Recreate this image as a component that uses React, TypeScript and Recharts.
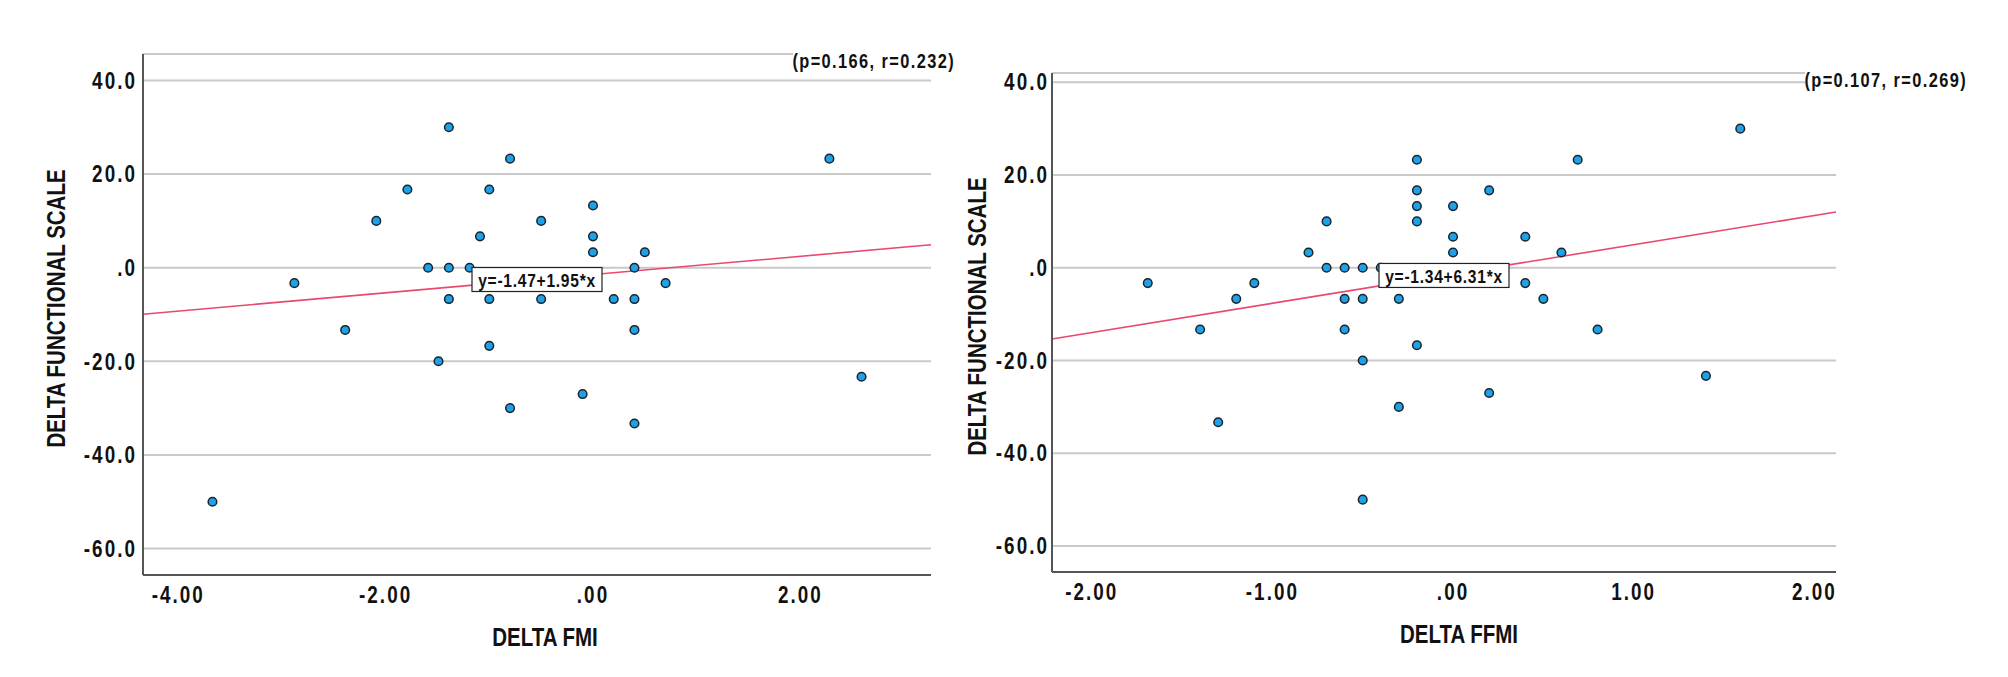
import {
  ScatterChart,
  Scatter,
  XAxis,
  YAxis,
  CartesianGrid,
  ReferenceLine,
  ReferenceDot,
} from "recharts";

// Delta FMI vs delta functional scale
const fmiX = [
  -1.39, -0.8, 2.28, -1.79, -1.0, 0.0, -2.09, -0.5, -1.09, 0.0, 0.0, 0.5, -1.59, -1.39, -1.19, 0.4, -2.88,
  0.7, -1.09, -1.39, -1.0, -0.5, 0.2, 0.4, -2.39, 0.4, -1.0, -1.49, 2.59, -0.1, -0.8, 0.4, -3.67,
];
const fmiY = [
  30, 23.3, 23.3, 16.7, 16.7, 13.3, 10, 10, 6.7, 6.7, 3.3, 3.3, 0, 0, 0, 0, -3.3, -3.3, -3.3, -6.7, -6.7,
  -6.7, -6.7, -6.7, -13.3, -13.3, -16.7, -20, -23.3, -27, -30, -33.3, -50,
];

// Delta FFMI vs delta functional scale
const ffmiX = [
  1.59, -0.2, 0.69, -0.2, 0.2, -0.2, 0.0, -0.7, -0.2, 0.0, 0.4, -0.8, 0.0, 0.6, -0.7, -0.6, -0.5, -0.4,
  -1.69, -1.1, 0.4, -1.2, -0.6, -0.5, -0.3, 0.5, -1.4, -0.6, 0.8, -0.2, -0.5, 1.4, 0.2, -0.3, -1.3, -0.5,
];
const ffmiY = [
  30, 23.3, 23.3, 16.7, 16.7, 13.3, 13.3, 10, 10, 6.7, 6.7, 3.3, 3.3, 3.3, 0, 0, 0, 0, -3.3, -3.3, -3.3,
  -6.7, -6.7, -6.7, -6.7, -6.7, -13.3, -13.3, -13.3, -16.7, -20, -23.3, -27, -30, -33.3, -50,
];

const yTicks = [-60, -40, -20, 0, 20, 40];
const fmiTicks = [-4, -2, 0, 2];
const ffmiTicks = [-2, -1, 0, 1, 2];

const FONT = "'Liberation Sans', Arial, sans-serif";
const SQUEEZE = 0.82; // fake Arial Narrow
const DOT_FILL = "#1ea2e6";
const LINE_RED = "#e8496f";

const fmtY = (v: number) => (v === 0 ? ".0" : v.toFixed(1));
const fmtX = (v: number) => (v === 0 ? ".00" : v.toFixed(2));

interface NarrowProps {
  x: number;
  y: number;
  size: number;
  anchor?: "start" | "middle" | "end";
  spacing?: number;
  rotate?: boolean;
  children: any;
}

// condensed bold text, like the SPSS output
function Narrow({ x, y, size, anchor = "middle", spacing = 0, rotate = false, children }: NarrowProps) {
  const tf = `translate(${x},${y})${rotate ? " rotate(-90)" : ""} scale(${SQUEEZE},1)`;
  return (
    <text
      transform={tf}
      x={0}
      y={0}
      textAnchor={anchor}
      dominantBaseline="central"
      fontFamily={FONT}
      fontWeight={700}
      fontSize={size}
      letterSpacing={spacing}
      fill="#111"
    >
      {children}
    </text>
  );
}

const dot = (p: any) => (
  <circle cx={p.cx} cy={p.cy} r={4.3} fill={DOT_FILL} stroke="#1b2330" strokeWidth={1.5} />
);

interface PanelProps {
  xs: number[];
  ys: number[];
  xTicks: number[];
  xDomain: [number, number];
  yDomain: [number, number];
  intercept: number;
  slope: number;
  stats: string;
  xLabel: string;
  width: number;
  margin: { top: number; right: number; left: number; bottom: number };
  yAxisWidth: number;
  xAxisHeight: number;
  yLabelX: number;
  xLabelShift: number;
  statsDx: number;
  statsDy: number;
  tickGap: number;
}

function Panel(props: PanelProps) {
  const { xs, ys, xDomain, intercept, slope } = props;
  const data = xs.map((x, i) => ({ x, y: ys[i] }));
  const [x0, x1] = xDomain;
  const xm = (x0 + x1) / 2;
  const eq = `y=${intercept.toFixed(2)}+${slope.toFixed(2)}*x`;

  return (
    <ScatterChart width={props.width} height={677} margin={props.margin}>
      <CartesianGrid vertical={false} stroke="#c9c9c9" strokeWidth={2} />
      <XAxis
        type="number"
        dataKey="x"
        domain={xDomain}
        ticks={props.xTicks}
        allowDataOverflow
        height={props.xAxisHeight}
        tickSize={0}
        tickMargin={20}
        axisLine={{ stroke: "#555", strokeWidth: 2 }}
        tick={(tp: any) => (
          <Narrow x={tp.x} y={tp.y} size={23} spacing={2.5}>
            {fmtX(tp.payload.value)}
          </Narrow>
        )}
        label={{
          content: (lp: any) => {
            const vb = lp.viewBox;
            return (
              <Narrow x={vb.x + vb.width / 2 + props.xLabelShift} y={vb.y + 62} size={25}>
                {props.xLabel}
              </Narrow>
            );
          },
        }}
      />
      <YAxis
        type="number"
        dataKey="y"
        domain={props.yDomain}
        ticks={yTicks}
        allowDataOverflow
        width={props.yAxisWidth}
        tickSize={0}
        tickMargin={props.tickGap}
        axisLine={{ stroke: "#555", strokeWidth: 2 }}
        tick={(tp: any) => (
          <Narrow x={tp.x} y={tp.y} size={23} spacing={2.5} anchor="end">
            {fmtY(tp.payload.value)}
          </Narrow>
        )}
        label={{
          content: (lp: any) => {
            const vb = lp.viewBox;
            return (
              <Narrow x={vb.x + props.yLabelX} y={vb.y + vb.height / 2 - 6} size={25} rotate>
                DELTA FUNCTIONAL SCALE
              </Narrow>
            );
          },
        }}
      />
      <ReferenceLine
        segment={[
          { x: x0, y: intercept + slope * x0 },
          { x: x1, y: intercept + slope * x1 },
        ]}
        stroke={LINE_RED}
        strokeWidth={1.6}
      />
      <Scatter data={data} shape={dot} isAnimationActive={false} />
      <ReferenceDot
        x={xm}
        y={intercept + slope * xm}
        zIndex={2000}
        shape={(p: any) => (
          <g>
            <rect x={p.cx - 65} y={p.cy - 12} width={130} height={24} fill="#fff" stroke="#222" strokeWidth={1.2} />
            <Narrow x={p.cx} y={p.cy + 1} size={19} spacing={0.9}>
              {eq}
            </Narrow>
          </g>
        )}
      />
      <ReferenceDot
        x={x1}
        y={40}
        zIndex={2000}
        shape={(p: any) => (
          <g>
            <rect x={p.cx + props.statsDx - 162} y={p.cy + props.statsDy - 11} width={164} height={22} fill="#fff" />
            <Narrow x={p.cx + props.statsDx} y={p.cy + props.statsDy} size={20} spacing={1.7} anchor="end">
              {props.stats}
            </Narrow>
          </g>
        )}
      />
    </ScatterChart>
  );
}

export default function App() {
  return (
    <div style={{ position: "absolute", left: 0, top: 0, width: 2008, height: 677, background: "#fff" }}>
      <div style={{ position: "absolute", left: 0, top: 0 }}>
        <Panel
          xs={fmiX}
          ys={fmiY}
          xTicks={fmiTicks}
          xDomain={[-4.34, 3.26]}
          yDomain={[-65.66, 45.66]}
          intercept={-1.47}
          slope={1.95}
          stats="(p=0.166, r=0.232)"
          xLabel="DELTA FMI"
          width={1000}
          margin={{ top: 54, right: 69, left: 0, bottom: 0 }}
          yAxisWidth={143}
          xAxisHeight={102}
          yLabelX={56}
          xLabelShift={8}
          statsDx={24}
          statsDy={-20}
          tickGap={6}
        />
      </div>
      <div style={{ position: "absolute", left: 940, top: 0 }}>
        <Panel
          xs={ffmiX}
          ys={ffmiY}
          xTicks={ffmiTicks}
          xDomain={[-2.22, 2.12]}
          yDomain={[-65.6, 42]}
          intercept={-1.34}
          slope={6.31}
          stats="(p=0.107, r=0.269)"
          xLabel="DELTA FFMI"
          width={1068}
          margin={{ top: 73, right: 172, left: 0, bottom: 0 }}
          yAxisWidth={112}
          xAxisHeight={105}
          yLabelX={37}
          xLabelShift={15}
          statsDx={131}
          statsDy={-2}
          tickGap={3}
        />
      </div>
    </div>
  );
}
